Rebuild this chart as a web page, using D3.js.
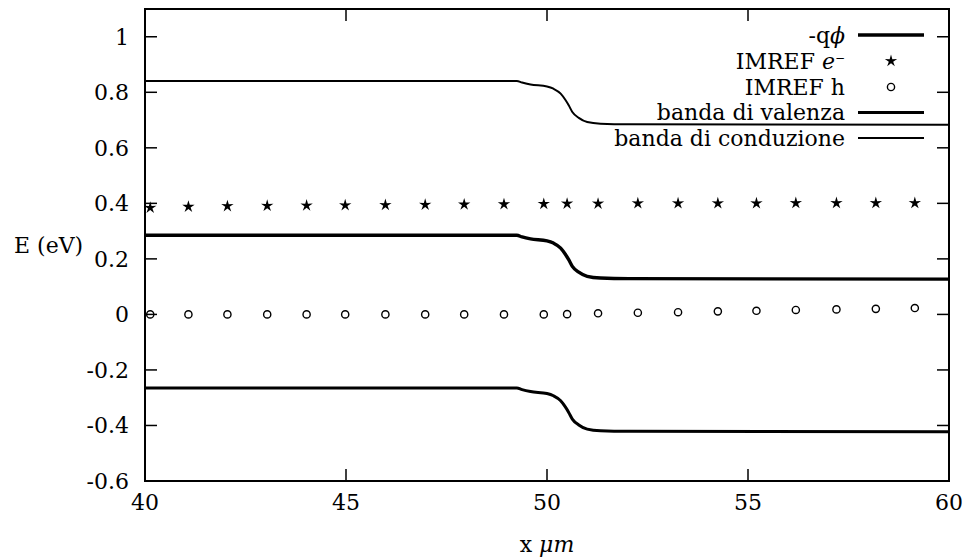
<!DOCTYPE html>
<html><head><meta charset="utf-8">
<script src="https://cdn.jsdelivr.net/npm/d3@7"></script>
<style>
body{margin:0;background:#fff;}
text{font-family:"DejaVu Serif",serif;fill:#000;}
</style></head>
<body><svg id="c" width="970" height="560"></svg>
<script>
// ---- data ----
const curveX = [40, 49.25, 49.38, 49.59, 50.00, 50.16, 50.34, 50.46, 50.54, 50.63, 50.79, 51.00, 51.33, 52.04, 60];
const phi    = [0.285, 0.285, 0.279, 0.272, 0.265, 0.257, 0.239, 0.216, 0.197, 0.173, 0.152, 0.137, 0.131, 0.129, 0.127];
const condBand = [0.841, 0.841, 0.835, 0.828, 0.821, 0.813, 0.795, 0.772, 0.753, 0.729, 0.708, 0.693, 0.687, 0.685, 0.683];
const valBand  = [-0.265, -0.265, -0.271, -0.278, -0.285, -0.293, -0.311, -0.334, -0.353, -0.377, -0.398, -0.413, -0.419, -0.421, -0.423];
const imrefX = [40.13, 41.08, 42.05, 43.04, 44.02, 44.98, 45.98, 46.97, 47.94, 48.93, 49.92, 50.50, 51.27, 52.26, 53.26, 54.25, 55.21, 56.19, 57.20, 58.18, 59.15];
const imrefE = [0.384, 0.388, 0.390, 0.391, 0.392, 0.393, 0.394, 0.395, 0.396, 0.397, 0.398, 0.399, 0.399, 0.400, 0.400, 0.400, 0.400, 0.401, 0.401, 0.401, 0.401];
const imrefH = [0.000, 0.000, 0.000, 0.000, 0.000, 0.000, 0.000, 0.000, 0.000, 0.000, 0.000, 0.001, 0.004, 0.006, 0.008, 0.011, 0.013, 0.016, 0.018, 0.020, 0.023];
const xTicks = [40, 45, 50, 55, 60];
const yTicks = [-0.6, -0.4, -0.2, 0, 0.2, 0.4, 0.6, 0.8, 1];
const yTickLabels = ["-0.6", "-0.4", "-0.2", "0", "0.2", "0.4", "0.6", "0.8", "1"];

// ---- layout ----
const L = 145, R = 949, T = 9, B = 481, TL = 12;
const svg = d3.select("#c");
const x = d3.scaleLinear().domain([40, 60]).range([L, R]);
const y = d3.scaleLinear().domain([-0.6, 1.1]).range([B, T]);

svg.append("defs").append("clipPath").attr("id","clip").append("rect")
  .attr("x", L).attr("y", T).attr("width", R-L).attr("height", B-T);

// ticks (inward, mirrored)
const g = svg.append("g");
xTicks.forEach(t => {
  g.append("line").attr("x1", x(t)).attr("x2", x(t)).attr("y1", B).attr("y2", B-TL).attr("stroke","#000").attr("stroke-width",1.5);
  g.append("line").attr("x1", x(t)).attr("x2", x(t)).attr("y1", T).attr("y2", T+TL).attr("stroke","#000").attr("stroke-width",1.5);
  g.append("text").attr("x", x(t)).attr("y", 510).attr("text-anchor","middle").attr("font-size",22).text(t);
});
yTicks.forEach((t,i) => {
  g.append("line").attr("x1", L).attr("x2", L+TL).attr("y1", y(t)).attr("y2", y(t)).attr("stroke","#000").attr("stroke-width",1.5);
  g.append("line").attr("x1", R).attr("x2", R-TL).attr("y1", y(t)).attr("y2", y(t)).attr("stroke","#000").attr("stroke-width",1.5);
  g.append("text").attr("x", 129).attr("y", y(t)).attr("dy","0.36em").attr("text-anchor","end").attr("font-size",22).text(yTickLabels[i]);
});

// frame
svg.append("rect").attr("x", L).attr("y", T).attr("width", R-L).attr("height", B-T)
  .attr("fill","none").attr("stroke","#000").attr("stroke-width",2);

// axis labels
svg.append("text").attr("x", 14).attr("y", 253).attr("font-size",22).text("E (eV)");
const xl = svg.append("text").attr("x", x(50)).attr("y", 552).attr("text-anchor","middle").attr("font-size",22);
xl.append("tspan").text("x ");
xl.append("tspan").attr("font-style","italic").text("μm");

// curves
const line = d3.line().x(d => x(d[0])).y(d => y(d[1])).curve(d3.curveMonotoneX);
const plot = svg.append("g").attr("clip-path","url(#clip)");
plot.append("path").datum(curveX.map((v,i)=>[v, condBand[i]])).attr("d", line)
  .attr("fill","none").attr("stroke","#000").attr("stroke-width",2);
plot.append("path").datum(curveX.map((v,i)=>[v, phi[i]])).attr("d", line)
  .attr("fill","none").attr("stroke","#000").attr("stroke-width",3.4);
plot.append("path").datum(curveX.map((v,i)=>[v, valBand[i]])).attr("d", line)
  .attr("fill","none").attr("stroke","#000").attr("stroke-width",3);

// star path
function starPath(R0, r0) {
  const pts = [];
  for (let i = 0; i < 10; i++) {
    const a = -Math.PI/2 + i*Math.PI/5;
    const rr = i % 2 === 0 ? R0 : r0;
    pts.push([rr*Math.cos(a), rr*Math.sin(a)]);
  }
  return "M" + pts.map(p => p[0].toFixed(2)+","+p[1].toFixed(2)).join("L") + "Z";
}
const sp = starPath(6.5, 2.3);
const mk = svg.append("g");
imrefX.forEach((v,i) => {
  mk.append("path").attr("d", sp).attr("transform", `translate(${x(v)},${y(imrefE[i])})`).attr("fill","#000");
  mk.append("circle").attr("cx", x(v)).attr("cy", y(imrefH[i])).attr("r", 3.6)
    .attr("fill","none").attr("stroke","#000").attr("stroke-width",1.4);
});

// legend
const lg = svg.append("g");
const rows = [35, 61, 87, 112.5, 138];
const tx = 845, lx1 = 858, lx2 = 924;
function ltext(yy){ return lg.append("text").attr("x", tx).attr("y", yy).attr("dy","0.36em").attr("text-anchor","end").attr("font-size",22); }
let t0 = ltext(rows[0]); t0.append("tspan").text("-q"); t0.append("tspan").attr("font-style","italic").text("ϕ");
lg.append("line").attr("x1",lx1).attr("x2",lx2).attr("y1",rows[0]).attr("y2",rows[0]).attr("stroke","#000").attr("stroke-width",3.4);
let t1 = ltext(rows[1]); t1.append("tspan").text("IMREF "); t1.append("tspan").attr("font-style","italic").text("e");
t1.append("tspan").attr("font-size",12).attr("dy","-7").text("−");
lg.append("path").attr("d", sp).attr("transform",`translate(${(lx1+lx2)/2},${rows[1]})`).attr("fill","#000");
ltext(rows[2]).text("IMREF h");
lg.append("circle").attr("cx",(lx1+lx2)/2).attr("cy",rows[2]).attr("r",3.6).attr("fill","none").attr("stroke","#000").attr("stroke-width",1.4);
ltext(rows[3]).text("banda di valenza");
lg.append("line").attr("x1",lx1).attr("x2",lx2).attr("y1",rows[3]).attr("y2",rows[3]).attr("stroke","#000").attr("stroke-width",3);
ltext(rows[4]).text("banda di conduzione");
lg.append("line").attr("x1",lx1).attr("x2",lx2).attr("y1",rows[4]).attr("y2",rows[4]).attr("stroke","#000").attr("stroke-width",2);
</script></body></html>
